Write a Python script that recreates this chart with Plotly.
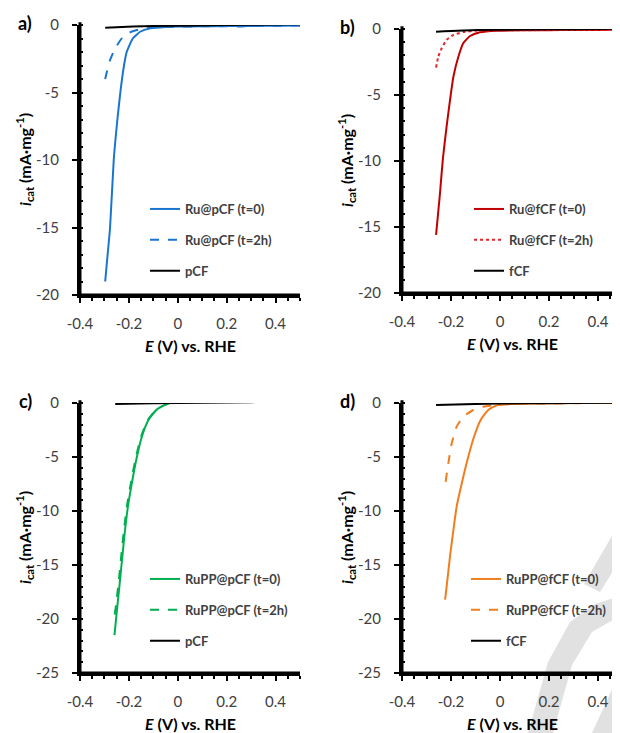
# Polarisation curves (i_cat vs E) for four catalyst series, 2x2 panels
import plotly.graph_objects as go

# ---- data ----
# panel a
a_t0_x = [-0.297, -0.288, -0.277, -0.262, -0.247, -0.235, -0.22, -0.209, -0.184, -0.154, -0.113, -0.05, 0.0, 0.1, 0.2, 0.3, 0.4, 0.5]
a_t0_y = [-19.0, -17.2, -15.0, -10.0, -7.0, -5.0, -3.0, -2.0, -1.0, -0.5, -0.25, -0.15, -0.12, -0.1, -0.08, -0.07, -0.05, -0.04]
a_t2_x = [-0.297, -0.29, -0.277, -0.256, -0.229, -0.195, -0.154, -0.113, -0.05, 0.0, 0.1, 0.2, 0.25, 0.27, 0.3, 0.4, 0.5]
a_t2_y = [-4.0, -3.46, -2.6, -1.73, -0.99, -0.54, -0.32, -0.2, -0.13, -0.12, -0.1, -0.09, -0.12, -0.1, -0.07, -0.05, -0.04]
a_bare_x = [-0.297, -0.183, -0.1, 0.09, 0.3, 0.5]
a_bare_y = [-0.2, -0.12, -0.08, -0.03, 0.02, 0.06]

# panel b
b_t0_x = [-0.261, -0.245, -0.233, -0.218, -0.204, -0.19, -0.17, -0.15, -0.122, -0.082, -0.013, 0.1, 0.2, 0.3, 0.4, 0.5]
b_t0_y = [-15.6, -12.45, -9.8, -7.4, -5.38, -3.6, -2.1, -1.08, -0.53, -0.25, -0.13, -0.1, -0.09, -0.08, -0.07, -0.06]
b_t2_x = [-0.261, -0.252, -0.238, -0.218, -0.19, -0.15, -0.095, -0.02, 0.1, 0.3, 0.5]
b_t2_y = [-2.93, -2.1, -1.46, -0.83, -0.45, -0.23, -0.13, -0.1, -0.09, -0.07, -0.06]
b_bare_x = [-0.261, -0.095, 0.1, 0.3, 0.5]
b_bare_y = [-0.2, -0.08, -0.04, -0.01, 0.02]

# panel c
c_t0_x = [-0.259, -0.249, -0.239, -0.228, -0.217, -0.204, -0.188, -0.17, -0.147, -0.12, -0.085, -0.044, 0.0, 0.1, 0.2, 0.3, 0.4, 0.5]
c_t0_y = [-21.5, -19.2, -17.0, -14.5, -12.0, -9.6, -7.44, -5.28, -3.12, -1.57, -0.59, -0.09, 0.09, 0.12, 0.12, 0.1, 0.1, 0.1]
c_t2_x = [-0.258, -0.252, -0.242, -0.231, -0.22, -0.207, -0.191, -0.173, -0.15, -0.123, -0.088, -0.046, 0.0, 0.1, 0.2, 0.3, 0.4, 0.5]
c_t2_y = [-19.6, -18.6, -16.6, -14.1, -11.7, -9.4, -7.3, -5.2, -3.1, -1.6, -0.62, -0.1, 0.1, 0.16, 0.16, 0.13, 0.11, 0.1]
c_bare_x = [-0.256, -0.1, 0.1, 0.3, 0.5]
c_bare_y = [-0.09, -0.03, 0.03, 0.08, 0.12]

# panel d
d_t0_x = [-0.224, -0.213, -0.203, -0.191, -0.177, -0.156, -0.133, -0.106, -0.079, -0.048, -0.013, 0.041, 0.1, 0.2, 0.3, 0.4, 0.5]
d_t0_y = [-18.2, -16.0, -14.0, -11.9, -9.6, -7.44, -5.28, -3.12, -1.57, -0.65, -0.22, -0.1, -0.06, -0.03, -0.01, 0.0, 0.01]
d_t2_x = [-0.222, -0.211, -0.197, -0.177, -0.15, -0.109, -0.068, -0.027, 0.02, 0.1, 0.3, 0.5]
d_t2_y = [-7.3, -5.6, -3.73, -2.19, -1.27, -0.65, -0.34, -0.2, -0.12, -0.07, -0.02, 0.01]
d_bare_x = [-0.261, -0.1, 0.1, 0.3, 0.5]
d_bare_y = [-0.19, -0.09, -0.03, 0.0, 0.03]

x_ticks = [-0.4, -0.2, 0, 0.2, 0.4]
x_ticklabels = ["-0.4", "-0.2", "0", "0.2", "0.4"]
y_ticks_top = [-20, -15, -10, -5, 0]
y_ticks_bottom = [-25, -20, -15, -10, -5, 0]

# the page puts the figure 8px in from the top-left corner
OFF = 8
W, H = 620 - OFF, 733 - OFF
FONT = "Lato"


def px(x):
    return (x - OFF) / W


def py(y):
    return 1 - (y - OFF) / H


fig = go.Figure()
fig.update_layout(template="none")

# panel geometry in reference pixels: (left, right, top, bottom)
panels = {
    "a": dict(box=(80, 300, 25, 295), yr=[-20, 0], yt=y_ticks_top),
    "b": dict(box=(402, 622.5, 29, 293), yr=[-20, 0], yt=y_ticks_top),
    "c": dict(box=(80, 300, 403, 673), yr=[-25, 0], yt=y_ticks_bottom),
    "d": dict(box=(402, 622.5, 403, 673), yr=[-25, 0], yt=y_ticks_bottom),
}

series = {
    "a": [("Ru@pCF (t=0)", a_t0_x, a_t0_y, "#1a75cf", "solid"),
          ("Ru@pCF (t=2h)", a_t2_x, a_t2_y, "#1a75cf", "dash"),
          ("pCF", a_bare_x, a_bare_y, "black", "solid")],
    "b": [("Ru@fCF (t=0)", b_t0_x, b_t0_y, "#c00000", "solid"),
          ("Ru@fCF (t=2h)", b_t2_x, b_t2_y, "#e8242c", "dot"),
          ("fCF", b_bare_x, b_bare_y, "black", "solid")],
    "c": [("RuPP@pCF (t=0)", c_t0_x, c_t0_y, "#00b050", "solid"),
          ("RuPP@pCF (t=2h)", c_t2_x, c_t2_y, "#00b050", "dash"),
          ("pCF", c_bare_x, c_bare_y, "black", "solid")],
    "d": [("RuPP@fCF (t=0)", d_t0_x, d_t0_y, "#f07d1e", "solid"),
          ("RuPP@fCF (t=2h)", d_t2_x, d_t2_y, "#f07d1e", "dash"),
          ("fCF", d_bare_x, d_bare_y, "black", "solid")],
}

# legend top-left corners in reference pixels
legend_pos = {"a": (145, 194), "b": (469, 194), "c": (145, 564), "d": (466, 564)}

shapes = []
for i, key in enumerate(["a", "b", "c", "d"]):
    n = "" if i == 0 else str(i + 1)
    p = panels[key]
    l, r, t, b = p["box"]
    lg = "legend" + n
    for j, (name, xs, ys, col, dash) in enumerate(series[key]):
        fig.add_trace(go.Scatter(
            x=xs, y=ys, name=name, mode="lines",
            line=dict(color=col, width=2, dash=dash, shape="spline", smoothing=0.5),
            xaxis="x" + n, yaxis="y" + n, legend=lg, legendgroup=key + str(j),
        ))
    # right-hand panels are clipped by the page edge
    x_hi = -0.4 + 0.9 * (min(r, 620) - l) / (r - l)
    fig.update_layout(**{
        "xaxis" + n: dict(
            domain=[px(l), px(min(r, 620))], anchor="y" + n, automargin=False,
            range=[-0.4, x_hi],
            tickmode="array", tickvals=x_ticks, ticktext=x_ticklabels,
            showline=True, linewidth=3, linecolor="black",
            ticks="outside", ticklen=5, tickwidth=2, tickcolor="black",
            minor=dict(tickmode="linear", tick0=-0.4, dtick=0.05, ticks="outside", ticklen=3, tickwidth=2, tickcolor="black", showgrid=False),
            showgrid=False, zeroline=False, ticklabelstandoff=8,
            tickfont=dict(family=FONT, size=15, color="#404040"),
        ),
        "yaxis" + n: dict(
            domain=[py(b), py(t)], anchor="x" + n, automargin=False,
            range=p["yr"], tickmode="array", tickvals=p["yt"],
            ticktext=[str(v) for v in p["yt"]],
            showline=True, linewidth=3, linecolor="black",
            ticks="outside", ticklen=5, tickwidth=2, tickcolor="black",
            minor=dict(tickmode="linear", tick0=0, dtick=1, ticks="inside", ticklen=3, tickwidth=2, tickcolor="black", showgrid=False),
            showgrid=False, zeroline=False, ticklabelstandoff=10,
            tickfont=dict(family=FONT, size=15, color="#404040"),
        ),
        lg: dict(
            x=px(legend_pos[key][0]), y=py(legend_pos[key][1]), xanchor="left", yanchor="top",
            bgcolor="rgba(0,0,0,0)", borderwidth=0, tracegroupgap=11, itemwidth=30,
            font=dict(family=FONT, size=13, color="#404040", weight="bold"),
        ),
    })
    # heavy axis spines along the left and bottom of each plot area
    xd, yd = "x%s domain" % n, "y%s domain" % n
    shapes.append(dict(type="line", xref=xd, yref=yd, x0=0, x1=1, y0=0, y1=0,
                       line=dict(color="black", width=3), layer="above"))
    shapes.append(dict(type="line", xref=xd, yref=yd, x0=0, x1=0, y0=-0.005, y1=1.01,
                       line=dict(color="black", width=3), layer="above"))
    # panel letter and axis titles
    fig.add_annotation(x=px(l - 55), y=py(t - 2), xref="paper", yref="paper",
                       xanchor="center", yanchor="middle",
                       text="<b>%s)</b>" % key, showarrow=False,
                       font=dict(family=FONT, size=18, color="black"))
    fig.add_annotation(x=px(l - 56), y=py((t + b) / 2), xref="paper", yref="paper",
                       xanchor="center", yanchor="middle",
                       text="<b><i>i</i><sub>cat</sub> (mA·mg<sup>-1</sup>)</b>", textangle=-90,
                       showarrow=False, font=dict(family=FONT, size=16, color="black"))
    fig.add_annotation(x=px(l + 110), y=py(b + 50), xref="paper", yref="paper",
                       xanchor="center", yanchor="middle",
                       text="<b><i>E</i> (V) vs. RHE</b>", showarrow=False,
                       font=dict(family=FONT, size=16, color="black"))


# faint watermark bands in the bottom-right corner
def band(points):
    s = "M " + " L ".join("%.4f,%.4f" % (px(x), py(y)) for x, y in points) + " Z"
    return dict(type="path", path=s, xref="paper", yref="paper",
                fillcolor="#d9d9d9", line=dict(width=0), layer="below", opacity=0.8)


shapes += [
    band([(620, 522), (620, 560), (600, 592), (584, 584)]),
    band([(620, 596), (620, 616), (592, 632), (572, 665), (553, 733), (528, 733), (548, 662), (570, 622), (595, 604)]),
    band([(620, 672), (620, 700), (612, 733), (592, 733)]),
]

fig.update_layout(
    shapes=shapes,
    width=W, height=H, margin=dict(l=0, r=0, t=0, b=0, pad=0),
    plot_bgcolor="white", paper_bgcolor="white", showlegend=True,
    font=dict(family=FONT),
)

fig.write_html("out.html")
